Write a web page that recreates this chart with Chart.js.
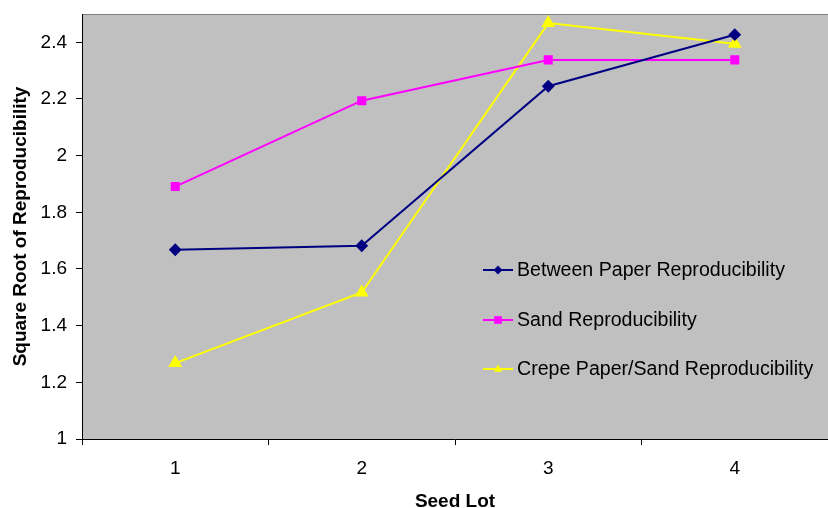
<!DOCTYPE html>
<html><head><meta charset="utf-8">
<script src="https://cdn.jsdelivr.net/npm/chart.js@4/dist/chart.umd.min.js"></script>
<style>html,body{margin:0;padding:0;background:#fff;overflow:hidden}#wrap{width:828px;height:508px}canvas{display:block}</style>
</head><body><div id="wrap"><canvas id="c" width="828" height="508"></canvas></div>
<script>
const categories = ['1', '2', '3', '4'];
const betweenPaper = [1.668, 1.682, 2.245, 2.427];
const sand = [1.891, 2.194, 2.338, 2.338];
const crepeSand = [1.268, 1.517, 2.468, 2.395];
const seriesNames = ['Between Paper Reproducibility', 'Sand Reproducibility', 'Crepe Paper/Sand Reproducibility'];
const yTicks = [1, 1.2, 1.4, 1.6, 1.8, 2, 2.2, 2.4];

const FONT = "'Liberation Sans', Arial, sans-serif";
const FS = 19;
const LFS = 19.6;

const bgPlugin = {
  id: 'plotBg',
  beforeDraw(chart) {
    const {ctx, chartArea: a} = chart;
    ctx.save();
    ctx.fillStyle = '#C0C0C0';
    ctx.fillRect(a.left, a.top, a.right - a.left, a.bottom - a.top);
    ctx.strokeStyle = '#808080';
    ctx.lineWidth = 1;
    ctx.strokeRect(a.left + 0.5, a.top + 0.5, a.right - a.left, a.bottom - a.top);
    ctx.restore();
  }
};

function drawMarker(ctx, style, x, y, r, color) {
  ctx.fillStyle = color;
  ctx.beginPath();
  if (style === 'rectRot') {
    ctx.moveTo(x, y - r); ctx.lineTo(x + r, y); ctx.lineTo(x, y + r); ctx.lineTo(x - r, y);
  } else if (style === 'rect') {
    ctx.rect(x - r * 0.85, y - r * 0.85, r * 1.7, r * 1.7);
  } else {
    ctx.moveTo(x, y - r); ctx.lineTo(x + r * 0.95, y + r * 0.6); ctx.lineTo(x - r * 0.95, y + r * 0.6);
  }
  ctx.closePath();
  ctx.fill();
}

const legendPlugin = {
  id: 'innerLegend',
  afterDraw(chart) {
    const {ctx} = chart;
    const x0 = 483, ys = [270, 320, 369];
    ctx.save();
    chart.data.datasets.forEach((ds, i) => {
      const y = ys[i];
      ctx.strokeStyle = ds.borderColor;
      ctx.lineWidth = 2;
      ctx.beginPath(); ctx.moveTo(x0, y); ctx.lineTo(x0 + 30, y); ctx.stroke();
      drawMarker(ctx, ds.pointStyle, x0 + 15, y, 4.5, ds.borderColor);
      ctx.fillStyle = '#000';
      ctx.font = LFS + 'px ' + FONT;
      ctx.textBaseline = 'middle';
      ctx.textAlign = 'left';
      ctx.fillText(ds.label, x0 + 34, y + 1);
    });
    ctx.restore();
  }
};

new Chart(document.getElementById('c'), {
  type: 'line',
  data: {
    labels: categories,
    datasets: [
      {label: seriesNames[0], data: betweenPaper, borderColor: '#000080', backgroundColor: '#000080', pointStyle: 'rectRot', pointRadius: 5, borderWidth: 2},
      {label: seriesNames[1], data: sand, borderColor: '#FF00FF', backgroundColor: '#FF00FF', pointStyle: 'rect', pointRadius: 5, borderWidth: 2},
      {label: seriesNames[2], data: crepeSand, borderColor: '#FFFF00', backgroundColor: '#FFFF00', pointStyle: 'triangle', pointRadius: 6, borderWidth: 2}
    ]
  },
  options: {
    responsive: false,
    animation: false,
    devicePixelRatio: 1,
    layout: {autoPadding: false, padding: {top: 14, right: 0, left: 0, bottom: 0}},
    elements: {line: {tension: 0}, point: {borderWidth: 0}},
    plugins: {legend: {display: false}, tooltip: {enabled: false}},
    scales: {
      x: {
        offset: true,
        grid: {offset: true, drawOnChartArea: false, drawTicks: true, tickLength: 6, color: '#000'},
        border: {color: '#000', width: 1},
        ticks: {color: '#000', font: {family: FONT, size: FS}, padding: 12},
        title: {display: true, text: 'Seed Lot', color: '#000', font: {family: FONT, size: FS, weight: 'bold'}, padding: {top: 4, bottom: -5}},
        afterFit(s) { s.height = 69; s.paddingLeft = 0; s.paddingRight = 0; }
      },
      y: {
        min: 1, max: 2.5,
        grid: {drawOnChartArea: false, drawTicks: true, tickLength: 6, color: '#000'},
        border: {color: '#000', width: 1},
        afterBuildTicks(s) { s.ticks = yTicks.map(v => ({value: v})); },
        ticks: {color: '#000', font: {family: FONT, size: FS}, padding: 9, callback: v => String(Math.round(v * 10) / 10)},
        title: {display: true, text: 'Square Root of Reproducibility', color: '#000', font: {family: FONT, size: FS, weight: 'bold'}, padding: {top: 9, bottom: 0}},
        afterFit(s) { s.width = 82; s.paddingTop = 0; s.paddingBottom = 0; }
      }
    }
  },
  plugins: [bgPlugin, legendPlugin]
});
</script></body></html>
